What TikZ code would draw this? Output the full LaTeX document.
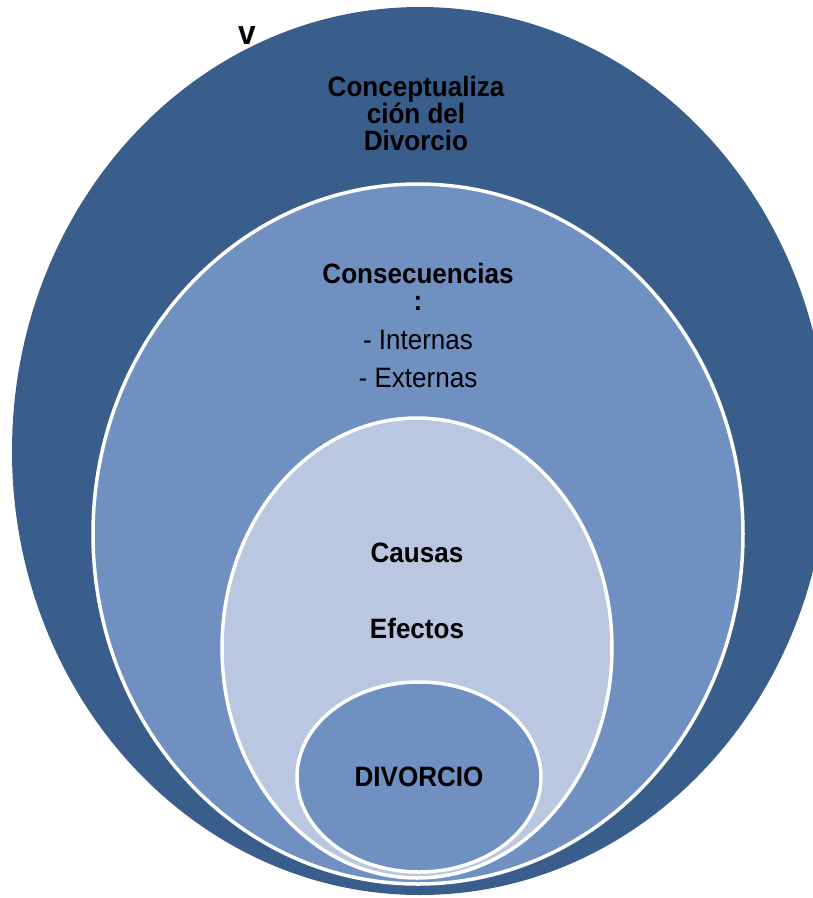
\documentclass[tikz,border=0pt]{standalone}
\usepackage{fontspec}
\setmainfont{Liberation Sans}[FakeStretch=0.93]
\usetikzlibrary{shapes.geometric,positioning}
\definecolor{azuloscuro}{HTML}{3A5E8B}
\definecolor{azulmedio}{HTML}{6F90C1}
\definecolor{azulclaro}{HTML}{B9C7E0}

\begin{document}
\begin{tikzpicture}[x=1pt,y=-1pt]
				\tikzset{capa/.style={ellipse,inner sep=0pt,draw=white,line width=3.5pt},
					txt/.style={align=center,inner sep=0pt,font=\fontsize{28}{27}\selectfont}}
				\useasboundingbox (0,0) rectangle (813,898);
				\clip (0,0) rectangle (813,898);
				\node [capa, fill=azuloscuro, draw=none, minimum width=816pt, minimum height=888pt] (concepto) at (420,451) {};
				\node [capa, fill=azulmedio, minimum width=650pt, minimum height=700pt] (consec) at (418,534) {};
				\node [capa, fill=azulclaro, minimum width=390pt, minimum height=460pt] (causas) at (417,648) {};
				\node [capa, fill=azulmedio, minimum width=244pt, minimum height=190pt] (divorcio) at (419,777) {};
				\node [txt, below=71pt of concepto.north, xshift=-4pt] (tconcepto) {\bfseries Conceptualiza\\\bfseries ción del\\\bfseries Divorcio};
				\node [txt, below=81pt of consec.north] (tconsec) {\bfseries Consecuencias\\\bfseries :\\[12pt]- Internas\\[11pt]- Externas};
				\node [txt, below=126pt of causas.north] (tcausas) {\bfseries Causas\\[49pt]\bfseries Efectos};
				\node [txt, font=\fontsize{28}{27}\selectfont\bfseries] (tdivorcio) at (divorcio.center) {DIVORCIO};
				\node [txt, font=\fontsize{34}{34}\selectfont\bfseries, anchor=base] (v) at (247,44) {v};
			\end{tikzpicture}
\end{document}
